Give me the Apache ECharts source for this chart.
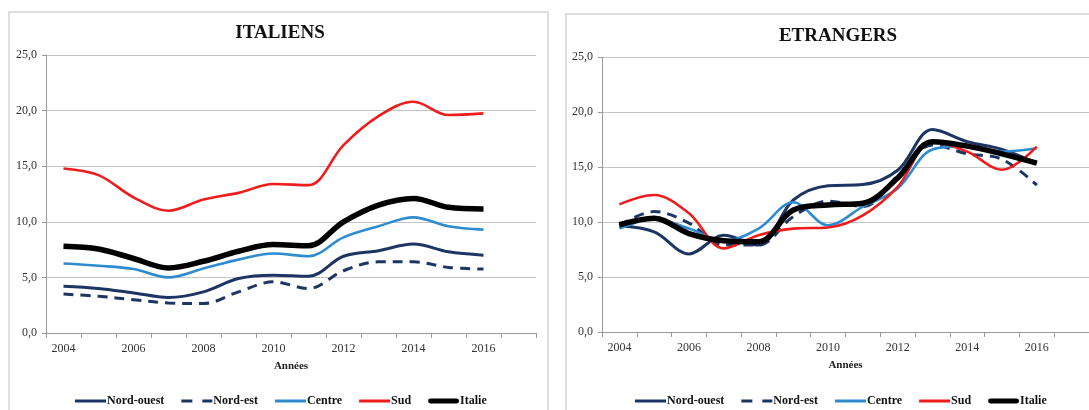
<!DOCTYPE html>
<html>
<head>
<meta charset="utf-8">
<script src="https://cdn.jsdelivr.net/npm/echarts@6/dist/echarts.min.js"></script>
<style>html,body{margin:0;padding:0;background:#fff}#c{width:1089px;height:410px}</style>
</head>
<body>
<div id="c"></div>
<script>
// Categories (2017 is an empty slot on the axis, as in the original)
const years = ['2004','2005','2006','2007','2008','2009','2010','2011','2012','2013','2014','2015','2016','2017'];
const seriesNames = ['Nord-ouest','Nord-est','Centre','Sud','Italie'];

// ITALIENS
const itNordOuest = [4.2, 4.0, 3.6, 3.2, 3.7, 4.9, 5.2, 5.1, 6.9, 7.4, 8.0, 7.3, 7.0];
const itNordEst   = [3.5, 3.3, 3.0, 2.7, 2.65, 3.7, 4.6, 4.0, 5.6, 6.4, 6.4, 5.9, 5.75];
const itCentre    = [6.25, 6.05, 5.75, 5.0, 5.8, 6.6, 7.15, 6.9, 8.6, 9.6, 10.4, 9.6, 9.3];
const itSud       = [14.8, 14.2, 12.2, 11.0, 12.0, 12.6, 13.4, 13.3, 16.9, 19.5, 20.8, 19.6, 19.75];
const itItalie    = [7.8, 7.55, 6.7, 5.85, 6.45, 7.35, 7.95, 7.85, 10.0, 11.5, 12.1, 11.3, 11.15];

// ETRANGERS
const etNordOuest = [9.65, 9.1, 7.1, 8.8, 7.9, 12.0, 13.3, 13.4, 14.7, 18.4, 17.3, 16.6, 15.35];
const etNordEst   = [9.7, 10.95, 9.9, 7.9, 7.9, 10.5, 11.9, 11.4, 14.2, 17.0, 16.2, 15.7, 13.35];
const etCentre    = [9.4, 10.3, 9.4, 8.3, 9.4, 11.8, 9.7, 11.4, 13.05, 16.6, 16.9, 16.4, 16.7];
const etSud       = [11.6, 12.45, 10.8, 7.6, 8.8, 9.4, 9.5, 10.6, 13.2, 17.3, 16.4, 14.75, 16.85];
const etItalie    = [9.75, 10.35, 8.95, 8.3, 8.2, 11.1, 11.55, 11.7, 14.0, 17.3, 16.9, 16.2, 15.35];

const colors = ['#1c3563', '#1c3563', '#2e8bd0', '#ee1c1c', '#000000'];
const widths = [3, 3, 2.6, 2.6, 5.5];
const types = ['solid', [10, 7], 'solid', 'solid', 'solid'];
const legendIcons = [
  'path://M0,0H31V3H0Z',
  'path://M0,0H11V3H0Z M21,0H31V3H21Z',
  'path://M0,0H31V3H0Z',
  'path://M0,0H31V3H0Z',
  'path://M2,0H29A2.5,2.5,0,0,1,29,5H2A2.5,2.5,0,0,1,2,0Z'
];

const serif = '"Liberation Serif", "Times New Roman", serif';

function mkSeries(dataArr, idx) {
  return dataArr.map((d, i) => ({
    name: seriesNames[i],
    type: 'line',
    xAxisIndex: idx, yAxisIndex: idx,
    data: d,
    smooth: 0.35,
    symbol: 'none',
    showSymbol: false,
    z: i === 4 ? 5 : 3,
    color: colors[i],
    lineStyle: { color: colors[i], width: widths[i], type: types[i], cap: 'butt' },
    emphasis: { disabled: true },
    animation: false
  }));
}

function xAx(idx) {
  return {
    type: 'category', gridIndex: idx, data: years, boundaryGap: true,
    name: 'Années', nameLocation: 'middle', nameGap: 28,
    nameTextStyle: { fontFamily: serif, fontWeight: 'bold', fontSize: 11, color: '#222' },
    axisLine: { show: true, lineStyle: { color: '#9a9a9a', width: 1 } },
    axisTick: { show: true, interval: 0, length: 5, lineStyle: { color: '#9a9a9a' } },
    axisLabel: { interval: 1, fontFamily: serif, fontSize: 12, color: '#333', margin: 10 },
    splitLine: { show: false }
  };
}
function yAx(idx) {
  return {
    type: 'value', gridIndex: idx, min: 0, max: 25, interval: 5,
    axisLine: { show: true, lineStyle: { color: '#9a9a9a', width: 1 } },
    axisTick: { show: true, length: 4, lineStyle: { color: '#9a9a9a' } },
    axisLabel: { fontFamily: serif, fontSize: 12, color: '#333', margin: 9,
      formatter: v => v.toFixed(1).replace('.', ',') },
    splitLine: { show: true, lineStyle: { color: '#c4c4c4', width: 1 } }
  };
}
function legend(left) {
  return {
    data: seriesNames.map((n, i) => ({ name: n, icon: legendIcons[i], itemStyle: { color: colors[i] } })),
    left: left, top: 390,
    itemWidth: 31, itemHeight: 10, itemGap: 17,
    symbolKeepAspect: true,
    textStyle: { fontFamily: serif, fontWeight: 'bold', fontSize: 12, color: '#111', padding: [0, 0, 0, -4] },
    selectedMode: false
  };
}

const chart = echarts.init(document.getElementById('c'), null, { renderer: 'canvas' });
chart.setOption({
  animation: false,
  backgroundColor: '#fff',
  graphic: [
    { type: 'rect', shape: { x: 9, y: 12, width: 539, height: 430 }, style: { fill: 'none', stroke: '#d4d4d4', lineWidth: 1.5 }, silent: true },
    { type: 'rect', shape: { x: 566, y: 14, width: 600, height: 430 }, style: { fill: 'none', stroke: '#d4d4d4', lineWidth: 1.5 }, silent: true }
  ],
  title: [
    { text: 'ITALIENS', left: 275, top: 19, textAlign: 'center',
      textStyle: { fontFamily: serif, fontWeight: 'bold', fontSize: 19, color: '#111' } },
    { text: 'ETRANGERS', left: 833, top: 22, textAlign: 'center',
      textStyle: { fontFamily: serif, fontWeight: 'bold', fontSize: 19, color: '#111' } }
  ],
  legend: [legend(70), legend(630)],
  grid: [
    { left: 46, top: 55, width: 490, height: 278, containLabel: false },
    { left: 602, top: 57, width: 488, height: 275, containLabel: false }
  ],
  xAxis: [xAx(0), xAx(1)],
  yAxis: [yAx(0), yAx(1)],
  series: [
    ...mkSeries([itNordOuest, itNordEst, itCentre, itSud, itItalie], 0),
    ...mkSeries([etNordOuest, etNordEst, etCentre, etSud, etItalie], 1)
  ]
});
</script>
</body>
</html>
